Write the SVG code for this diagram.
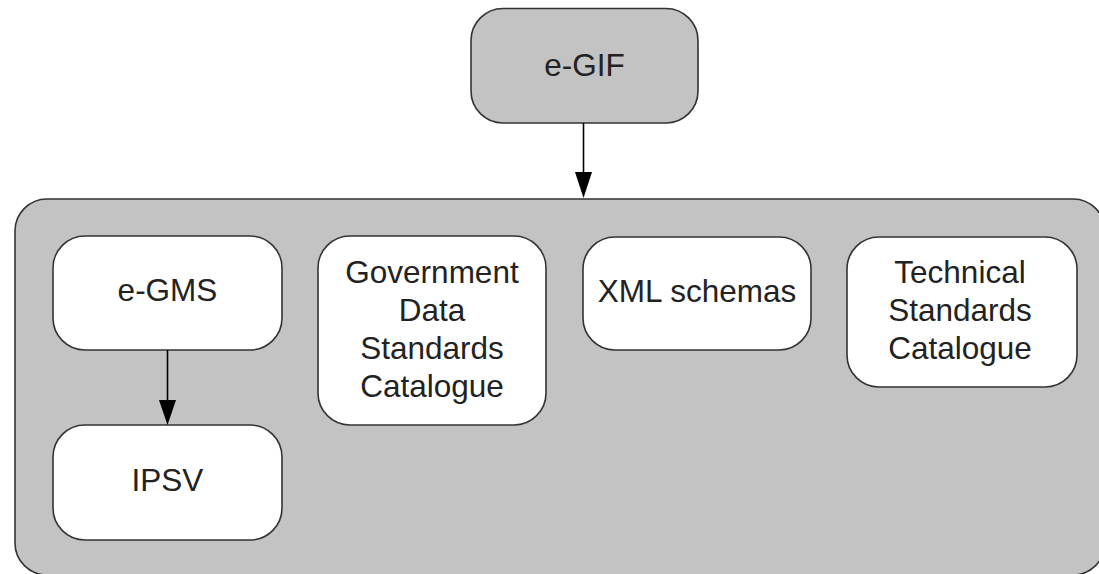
<svg xmlns="http://www.w3.org/2000/svg" width="1099" height="574" viewBox="0 0 1099 574">
<style>
.box{stroke:#333;stroke-width:1.6}
.gray{fill:#c3c3c3}
.white{fill:#fff}
.lbl{font-family:"Liberation Sans",Arial,sans-serif;font-size:31.5px;fill:#222;text-anchor:middle}
.conn{stroke:#000;stroke-width:1.6;fill:none}
</style>
<defs>
<marker id="ah" markerUnits="userSpaceOnUse" markerWidth="18" markerHeight="28" refX="8.5" refY="26" orient="auto-start-reverse" viewBox="0 0 17 28">
<path d="M0,0 L17,0 L8.5,26 Z" fill="#000"/>
</marker>
</defs>
<rect width="1099" height="574" fill="#fff"/>
<g id="egif">
<rect class="box gray" x="471" y="8.5" width="227" height="114.5" rx="32" ry="32"/>
<text class="lbl" x="584.5" y="76">e-GIF</text>
</g>
<g id="container">
<rect class="box gray" x="15" y="199" width="1090" height="376" rx="32" ry="32"/>
</g>
<g id="egms">
<rect class="box white" x="53" y="236" width="229" height="114" rx="32" ry="32"/>
<text class="lbl" x="167.5" y="301">e-GMS</text>
</g>
<g id="ipsv">
<rect class="box white" x="53" y="425" width="229" height="115" rx="32" ry="32"/>
<text class="lbl" x="167.5" y="491">IPSV</text>
</g>
<g id="gdsc">
<rect class="box white" x="318" y="236" width="228" height="189" rx="32" ry="32"/>
<text class="lbl" x="432" y="283">Government</text>
<text class="lbl" x="432" y="320.5">Data</text>
<text class="lbl" x="432" y="358.5">Standards</text>
<text class="lbl" x="432" y="397">Catalogue</text>
</g>
<g id="xml">
<rect class="box white" x="583" y="237" width="228" height="113" rx="32" ry="32"/>
<text class="lbl" x="697" y="302">XML schemas</text>
</g>
<g id="tsc">
<rect class="box white" x="847" y="237" width="230" height="150" rx="32" ry="32"/>
<text class="lbl" x="960" y="283">Technical</text>
<text class="lbl" x="960" y="321">Standards</text>
<text class="lbl" x="960" y="359">Catalogue</text>
</g>
<g id="connectors">
<path class="conn" d="M583.5,123 V172"/>
<path d="M575,172 L592,172 L583.5,198 Z" fill="#000"/>
<path class="conn" d="M167.5,350 V400"/>
<path d="M159,400 L176,400 L167.5,425 Z" fill="#000"/>
</g>
</svg>
